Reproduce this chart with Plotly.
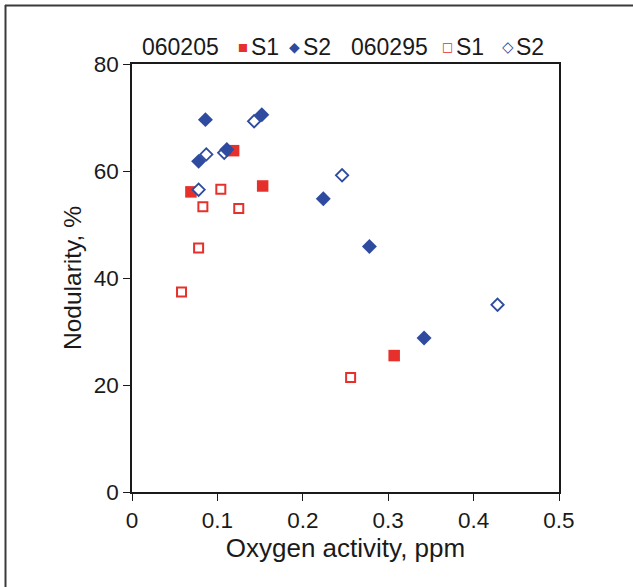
import plotly.graph_objects as go

# 060205 S1 (filled red squares)
a_s1_x = [0.069, 0.119, 0.153, 0.307]
a_s1_y = [56.1, 63.8, 57.2, 25.5]
# 060205 S2 (filled blue diamonds)
a_s2_x = [0.086, 0.078, 0.111, 0.152, 0.224, 0.278, 0.342]
a_s2_y = [69.6, 61.8, 64.0, 70.5, 54.8, 45.9, 28.8]
# 060295 S1 (open red squares)
b_s1_x = [0.058, 0.078, 0.083, 0.104, 0.125, 0.256]
b_s1_y = [37.4, 45.6, 53.3, 56.6, 53.0, 21.4]
# 060295 S2 (open blue diamonds)
b_s2_x = [0.078, 0.087, 0.108, 0.143, 0.246, 0.428]
b_s2_y = [56.5, 63.1, 63.4, 69.3, 59.2, 35.0]

x_ticks = [0, 0.1, 0.2, 0.3, 0.4, 0.5]
x_tick_labels = ["0", "0.1", "0.2", "0.3", "0.4", "0.5"]
y_ticks = [0, 20, 40, 60, 80]

RED = "#e6302b"
BLUE = "#2f4b9f"
FONT = "Liberation Sans, Arial, Helvetica, sans-serif"
TXT = "#1a1a1a"

fig = go.Figure()
fig.add_trace(go.Scatter(x=b_s1_x, y=b_s1_y, mode="markers", name="060295 S1",
                         marker=dict(symbol="square", size=9, color="white",
                                     line=dict(color=RED, width=2))))
fig.add_trace(go.Scatter(x=a_s1_x, y=a_s1_y, mode="markers", name="060205 S1",
                         marker=dict(symbol="square", size=11.5, color=RED,
                                     line=dict(width=0))))
fig.add_trace(go.Scatter(x=b_s2_x, y=b_s2_y, mode="markers", name="060295 S2",
                         marker=dict(symbol="diamond", size=9.5, color="white",
                                     line=dict(color=BLUE, width=1.8))))
fig.add_trace(go.Scatter(x=a_s2_x, y=a_s2_y, mode="markers", name="060205 S2",
                         marker=dict(symbol="diamond", size=11.5, color=BLUE,
                                     line=dict(width=0))))

L, R, T, B = 132, 74, 64, 95
W, H = 633, 587
pw, ph = W - L - R, H - T - B


def px(xp):
    return (xp - L) / pw


def py(yp):
    return (H - B - yp) / ph


axis_common = dict(showgrid=False, zeroline=False, showline=True, linecolor="#1a1a1a",
                   linewidth=1.6, mirror=True, ticks="outside", ticklen=7,
                   tickcolor="#1a1a1a", tickwidth=1.4,
                   tickfont=dict(family=FONT, size=22.5, color=TXT))

fig.update_xaxes(range=[0, 0.5], tickvals=x_ticks, ticktext=x_tick_labels,
                 title=dict(text="Oxygen activity, ppm", font=dict(family=FONT, size=26, color=TXT),
                            standoff=2),
                 **axis_common)
fig.update_yaxes(range=[0, 80], tickvals=y_ticks,
                 title=dict(text="Nodularity, %", font=dict(family=FONT, size=24.5, color=TXT),
                            standoff=5),
                 **axis_common)

ly = py(47)
anns = []


def txt(x, s, anchor="left", color=TXT, size=23, fam=FONT):
    anns.append(dict(x=px(x), y=ly, xref="paper", yref="paper", text=s, showarrow=False,
                     xanchor=anchor, yanchor="middle",
                     font=dict(family=fam, size=size, color=color)))


txt(140, "060205")
txt(243.3, "■", anchor="center", color=RED, size=10.5, fam="DejaVu Sans")
txt(249, "S1")
txt(294.5, "◆", anchor="center", color=BLUE, size=14, fam="DejaVu Sans")
txt(300.5, "S2")
txt(349, "060295")
txt(447.5, "□", anchor="center", color=RED, size=12, fam="DejaVu Sans")
txt(454, "S1")
txt(508, "◇", anchor="center", color=BLUE, size=15, fam="DejaVu Sans")
txt(514, "S2")

fig.update_layout(
    width=W, height=H,
    margin=dict(l=L, r=R, t=T, b=B),
    paper_bgcolor="white", plot_bgcolor="white",
    showlegend=False,
    annotations=anns,
    shapes=[
        dict(type="line", xref="paper", yref="paper", x0=px(5), x1=px(640), y0=py(5.5), y1=py(5.5),
             line=dict(color="#3a3a3a", width=2)),
        dict(type="line", xref="paper", yref="paper", x0=px(5.5), x1=px(5.5), y0=py(5), y1=py(600),
             line=dict(color="#3a3a3a", width=2)),
    ],
)

fig.write_html("out.html")
